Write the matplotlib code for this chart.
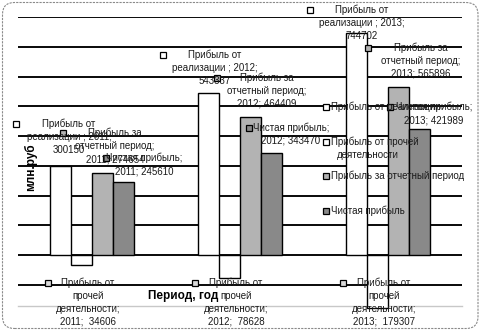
import matplotlib
matplotlib.use('Agg')
import matplotlib.pyplot as plt
from matplotlib.patches import Rectangle, FancyBboxPatch
from matplotlib.transforms import IdentityTransform
import numpy as np

# ---------------- data ----------------
years = ['2011', '2012', '2013']
series_names = ['Прибыль от реализации', 'Прибыль от прочей деятельности',
                'Прибыль за отчетный период', 'Чистая прибыль']
sales_profit = [300150, 543337, 744702]
other_profit = [-34606, -78628, -179307]
period_profit = [274654, 464409, 565896]
net_profit = [245610, 343470, 421989]
y_label = 'млн.руб'
x_label = 'Период, год'

# ---------------- style ----------------
colors = ['#ffffff', '#ffffff', '#b3b3b3', '#898989']
key_colors = ['#ffffff', '#d9d9d9', '#b3b3b3', '#898989']
TXT = '#1a1a1a'

W, H = 481, 332
plt.rcParams['font.family'] = ['Liberation Sans', 'DejaVu Sans']
fig = plt.figure(figsize=(W / 100, H / 100), dpi=100)


def fx(x):
    return x / W


def fy(y):
    return 1 - y / H


top_px, bot_px, left_px, right_px = 17, 305.6, 18, 462
ax = fig.add_axes([fx(left_px), fy(bot_px), (right_px - left_px) / W, (bot_px - top_px) / H])
ax.set_xlim(-0.5, 2.5)
ax.set_ylim(-170000, 800000)

x = np.arange(len(years))
w = 21 / 148
all_series = [sales_profit, other_profit, period_profit, net_profit]
for i, vals in enumerate(all_series):
    ax.bar(x + (i - 1.5) * w, vals, width=w, color=colors[i], edgecolor='black',
           linewidth=1.0, zorder=3, clip_on=False)

ax.set_yticks(np.arange(-100000, 800001, 100000))
ax.yaxis.grid(True, color='black', linewidth=1.35, zorder=1)
ax.set_axisbelow(True)
ax.tick_params(length=0, labelleft=False, labelbottom=False)
ax.set_xticks([])
for s in ['top', 'left', 'right']:
    ax.spines[s].set_visible(False)
ax.spines['bottom'].set_color('#c8c8c8')
ax.spines['bottom'].set_linewidth(1.0)


# ---------------- data labels ----------------
def key(xp, yp, color):
    fig.add_artist(Rectangle((fx(xp - 3), fy(yp + 3)), 6 / W, 6 / H, transform=fig.transFigure,
                             facecolor=color, edgecolor='black', linewidth=0.9, zorder=10))


def label(lines, cx, y0, kx, color):
    key(kx, y0, color)
    for j, ln in enumerate(lines):
        fig.text(fx(cx), fy(y0 + 13 * j), ln, ha='center', va='center', fontsize=7,
                 color=TXT, zorder=11)


# layout positions (pixel) for labels: (center x, first line y, key x)
pos_sales = [(69, 124, 16), (215, 55, 163), (362, 10, 310)]
pos_other = [(88, 283, 48), (236, 283, 195), (384, 283, 343)]
pos_period = [(115, 133, 63), (267, 78, 217), (421, 48, 368)]
pos_net = [(144, 158, 106), (291, 128, 249), (434, 107, 390)]

for k, yr in enumerate(years):
    cx, y0, kx = pos_sales[k]
    label(['Прибыль от', f'реализации ; {yr};', f'{sales_profit[k]}'], cx, y0, kx, key_colors[0])
    cx, y0, kx = pos_other[k]
    label(['Прибыль от', 'прочей', 'деятельности;', f'{yr};  {abs(other_profit[k])}'],
          cx, y0, kx, key_colors[1])
    cx, y0, kx = pos_period[k]
    label(['Прибыль за', 'отчетный период;', f'{yr}; {period_profit[k]}'], cx, y0, kx, key_colors[2])
    cx, y0, kx = pos_net[k]
    label(['Чистая прибыль;', f'{yr}; {net_profit[k]}'], cx, y0, kx, key_colors[3])

# ---------------- legend (manual, no frame) ----------------
leg_y = [107, 142, 176, 211]
leg_lines = [['Прибыль от реализации'], ['Прибыль от прочей', 'деятельности'],
             ['Прибыль за отчетный период'], ['Чистая прибыль']]
for i, ly in enumerate(leg_y):
    key(326, ly, key_colors[i] if i != 1 else '#ffffff')
    for j, ln in enumerate(leg_lines[i]):
        fig.text(fx(331 + (6 if j > 0 else 0)), fy(ly + 13 * j), ln, ha='left', va='center',
                 fontsize=7, color=TXT, zorder=11)

# ---------------- axis titles ----------------
fig.text(fx(31), fy(167), y_label, rotation=90, ha='center', va='center', fontsize=8.5,
         fontweight='bold', color='black', zorder=12)
fig.text(fx(183), fy(296), x_label, ha='center', va='center', fontsize=8.5,
         fontweight='bold', color='black', zorder=12)

# ---------------- chart border ----------------
border = FancyBboxPatch((2.5, 3.5), 475.5, 326, boxstyle='round,pad=0,rounding_size=12',
                        transform=IdentityTransform(), facecolor='none', edgecolor='#8a8a8a',
                        linewidth=0.8, linestyle=(0, (2, 1)), zorder=20)
fig.add_artist(border)

fig.savefig('out.png', dpi=100)
